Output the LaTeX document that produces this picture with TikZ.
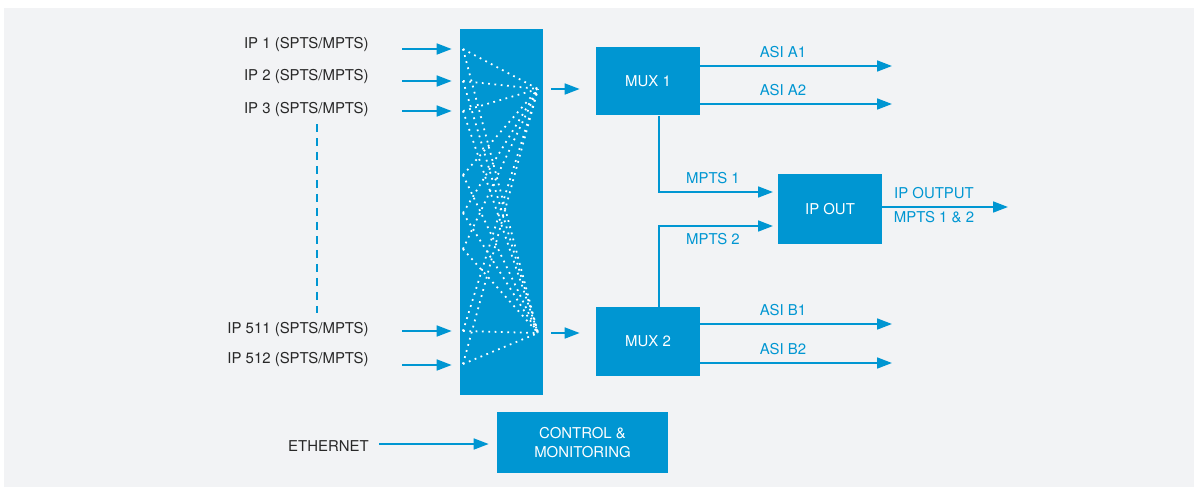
\documentclass[tikz,border=0pt]{standalone}
\usepackage{fontspec}
\setmainfont{TeX Gyre Heros}
\usepackage{tikz}
\usetikzlibrary{arrows.meta}

\definecolor{boxblue}{RGB}{0,150,210}
\definecolor{panelgray}{RGB}{242,243,245}
\definecolor{labelgray}{RGB}{40,40,40}

\begin{document}
\begin{tikzpicture}[x=0.02cm, y=-0.02cm,
    font=\fontsize{8.5}{10.8}\selectfont,
    blk/.style={fill=boxblue, text=white, inner sep=0pt, align=center},
    sig/.style={line width=1.1pt, color=boxblue, -{Triangle[length=8.5pt, width=6.2pt]}},
    lbl/.style={text=labelgray, anchor=east, inner sep=0pt},
    blbl/.style={text=boxblue, inner sep=0pt},
    xdots/.style={white, line width=1pt, dash pattern=on 1pt off 2.6pt}]

      \useasboundingbox (0,0) rectangle (1197,487);
      \fill[panelgray] (4,8) rectangle (1194,487);

      \node[blk, minimum width=1.66cm, minimum height=7.34cm] (router) at (501.5,212) {};
      \node[blk, minimum width=2.08cm, minimum height=1.38cm] (mux1) at (648,81) {MUX 1};
      \node[blk, minimum width=2.08cm, minimum height=1.38cm] (mux2) at (648,341.5) {MUX 2};
      \node[blk, minimum width=2.08cm, minimum height=1.40cm] (ipout) at (830,209) {IP OUT};
      \node[blk, minimum width=3.42cm, minimum height=1.22cm] (ctrl) at (582.5,442.5) {CONTROL \&\\MONITORING};

      \coordinate (hubA) at (538,89);
      \coordinate (hubB) at (538,333);
      \foreach \y in {49,81,111,175,213,249,331,364} {
        \draw[xdots] (463,\y) -- (hubA);
        \draw[xdots] (463,\y) -- (hubB);
      }

      \foreach \y/\ly/\n in {49/45/1, 81/77/2, 111/110/3, 331/330/511, 365/359/512} {
        \node[lbl] (ip\n) at (369,\ly) {IP \n\ (SPTS/MPTS)};
        \coordinate (in\n) at (402,\y);
        \draw[sig, shorten >=0.16cm] (in\n) -- (in\n -| router.west);
      }
      \draw[boxblue, line width=1.1pt, dash pattern=on 0.16cm off 0.12cm] (317,124) -- (317,313);

      \draw[sig, shorten <=0.16cm, shorten >=0.32cm] (hubA -| router.east) -- (hubA -| mux1.west);
      \draw[sig, shorten <=0.16cm, shorten >=0.32cm] (hubB -| router.east) -- (hubB -| mux2.west);

      \coordinate (a1) at (892,66);
      \coordinate (a2) at (892,104);
      \coordinate (b1) at (892,324);
      \coordinate (b2) at (892,363);
      \draw[sig] (a1 -| mux1.east) -- (a1);
      \draw[sig] (a2 -| mux1.east) -- (a2);
      \draw[sig] (b1 -| mux2.east) -- (b1);
      \draw[sig] (b2 -| mux2.east) -- (b2);
      \node[blbl] at (783,52) {ASI A1};
      \node[blbl] at (783,90) {ASI A2};
      \node[blbl] at (783,310) {ASI B1};
      \node[blbl] at (783,349) {ASI B2};

      \coordinate (m1) at (773,192);
      \coordinate (m2) at (773,226);
      \draw[sig] ([xshift=0.22cm]mux1.south) |- (m1);
      \draw[sig] ([xshift=0.22cm]mux2.north) |- (m2);
      \node[blbl] at (713,178) {MPTS 1};
      \node[blbl] at (713,239) {MPTS 2};

      \coordinate (ipo) at (1008,207);
      \draw[sig] (ipo -| ipout.east) -- (ipo);
      \node[blbl] at (934,193) {IP OUTPUT};
      \node[blbl] at (934,217) {MPTS 1 \& 2};

      \node[lbl] (eth) at (369,446) {ETHERNET};
      \coordinate (ethin) at (379,444);
      \draw[sig, shorten >=0.16cm] (ethin) -- (ethin -| ctrl.west);
    \end{tikzpicture}
\end{document}
